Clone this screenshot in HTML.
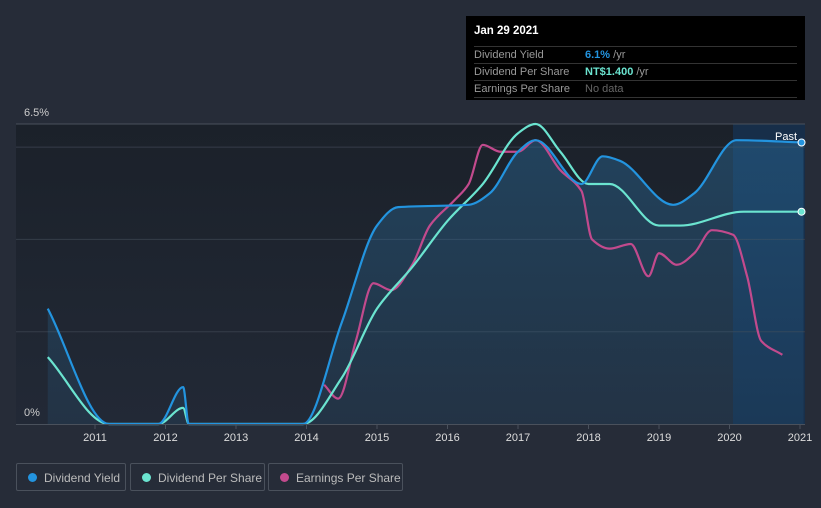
<!DOCTYPE html>
<html><head><meta charset="utf-8"><style>
body{margin:0;background:#262c38;width:821px;height:508px;overflow:hidden;font-family:"Liberation Sans",sans-serif}
#tip{position:absolute;left:466px;top:16px;width:339px;height:84px;background:#000;color:#fff;font-size:11px}
#tip .t{position:absolute;left:8px;top:9px;font-weight:bold;font-size:11.5px}
#tip .r{position:absolute;left:8px;right:8px;height:16px;border-top:1px solid #333;color:#999;line-height:16px}
#tip .r span{position:absolute;left:111px}
.lg{position:absolute;top:463px;height:28px;border:1px solid #4a515c;border-radius:2px;color:#bbb;font-size:12px;line-height:28px;box-sizing:border-box;white-space:nowrap;overflow:hidden}
.lg i{display:inline-block;width:9px;height:9px;border-radius:50%;margin:0 7px 0 11px}
</style></head><body>
<svg id="ch" width="821" height="508" style="position:absolute;left:0;top:0">
<defs>
<linearGradient id="pa" x1="0" y1="0" x2="0" y2="1"><stop offset="0" stop-color="#1b212a"/><stop offset="1" stop-color="#222936"/></linearGradient>
<linearGradient id="fy" x1="0" y1="0" x2="0" y2="1"><stop offset="0" stop-color="#2a6b9a" stop-opacity="0.45"/><stop offset="1" stop-color="#2a6b9a" stop-opacity="0.15"/></linearGradient>
</defs>
<rect x="16" y="124" width="789" height="300" fill="url(#pa)"/>
<rect x="733" y="124" width="72" height="300" fill="#173251" opacity="0.8"/>
<g id="grid"></g><g id="marks"></g><g id="axis"></g>
<text x="24" y="116" fill="#ccc" font-size="11">6.5%</text>
<text x="24" y="416" fill="#ccc" font-size="11">0%</text>
<text x="797" y="140" fill="#fff" font-size="11" text-anchor="end">Past</text>
</svg>
<div id="tip">
<div class="t">Jan 29 2021</div>
<div class="r" style="top:30px">Dividend Yield<span><b style="color:#2394df">6.1%</b> /yr</span></div>
<div class="r" style="top:47px">Dividend Per Share<span><b style="color:#6be4d0">NT$1.400</b> /yr</span></div>
<div class="r" style="top:64px;border-bottom:1px solid #333">Earnings Per Share<span style="color:#666">No data</span></div>
</div>
<div class="lg" style="left:16px;width:110px"><i style="background:#2394df"></i>Dividend Yield</div>
<div class="lg" style="left:130px;width:135px"><i style="background:#6be4d0"></i>Dividend Per Share</div>
<div class="lg" style="left:268px;width:135px"><i style="background:#c24a8d"></i>Earnings Per Share</div>
<script>
const xTicks=[2011,2012,2013,2014,2015,2016,2017,2018,2019,2020,2021];
const yGrid=[2,4,6,6.5];
const yieldT=[2010.33,2011.2,2011.9,2012.25,2012.33,2013.95,2014.5,2015.0,2015.3,2016.3,2016.6,2017.0,2017.25,2017.9,2018.2,2018.45,2019.2,2019.5,2020.1,2021.05];
const yieldV=[2.5,0,0,0.8,0,0,2.2,4.3,4.7,4.75,5.0,5.9,6.15,5.2,5.8,5.7,4.75,5.0,6.15,6.1];
const dpsT=[2010.33,2011.2,2011.9,2012.25,2012.33,2013.95,2014.5,2015.0,2015.5,2016.0,2016.5,2017.0,2017.25,2017.6,2018.0,2018.3,2019.0,2019.3,2020.2,2021.05];
const dpsV=[1.45,0,0,0.35,0,0,1.0,2.5,3.4,4.4,5.2,6.3,6.5,5.9,5.2,5.2,4.3,4.3,4.6,4.6];
const epsT=[2014.25,2014.45,2014.7,2014.95,2015.2,2015.5,2015.75,2016.1,2016.3,2016.5,2016.75,2017.0,2017.25,2017.6,2017.9,2018.05,2018.3,2018.6,2018.85,2019.0,2019.25,2019.5,2019.75,2020.05,2020.25,2020.45,2020.75];
const epsV=[0.85,0.55,1.8,3.05,2.9,3.45,4.3,4.85,5.2,6.05,5.9,5.9,6.15,5.5,5.05,4.0,3.8,3.9,3.2,3.7,3.45,3.7,4.2,4.1,3.2,1.8,1.5];
const X=t=>95+(t-2011)*70.5, Y=v=>424-v*46.15;
const NS="http://www.w3.org/2000/svg";
function mk(tag,attrs,parent){const e=document.createElementNS(NS,tag);for(const k in attrs)e.setAttribute(k,attrs[k]);parent.appendChild(e);return e;}
function path(T,V){const x=T.map(X),y=V.map(Y),n=x.length;const d=[],s=[];
for(let i=0;i<n-1;i++)d.push((y[i+1]-y[i])/(x[i+1]-x[i]));
for(let i=0;i<n;i++){if(i==0)s.push(d[0]);else if(i==n-1)s.push(d[n-2]);else if(d[i-1]*d[i]<=0)s.push(0);else{s.push(3*(d[i-1]+d[i])/( (2*d[i]+d[i-1])/d[i-1]*0+ (1/d[i-1]+1/d[i])*(d[i-1]+d[i]) )*0 + 2/(1/d[i-1]+1/d[i]));}}
let p="M"+x[0]+","+y[0];
for(let i=0;i<n-1;i++){const h=(x[i+1]-x[i])/3;p+=" C"+(x[i]+h)+","+(y[i]+s[i]*h)+" "+(x[i+1]-h)+","+(y[i+1]-s[i+1]*h)+" "+x[i+1]+","+y[i+1];}
return p;}
const g=document.getElementById('grid'),m=document.getElementById('marks'),a=document.getElementById('axis');
yGrid.forEach(v=>{const l=mk('line',{x1:16,x2:805,y1:Y(v),y2:Y(v),stroke:v==6.5?'#4a515c':'#363d49'},g);

});
const yd=path(yieldT,yieldV);
const f=mk('path',{d:yd+" L"+X(yieldT[yieldT.length-1])+",424 L"+X(yieldT[0])+",424Z",fill:"url(#fy)"},m);


const ep=mk('path',{d:path(epsT,epsV),fill:"none",stroke:"#c24a8d","stroke-width":2.2},m);


const dp=mk('path',{d:path(dpsT,dpsV),fill:"none",stroke:"#6be4d0","stroke-width":2.2},m);


const yl=mk('path',{d:yd,fill:"none",stroke:"#2394df","stroke-width":2.2},m);


const c1=mk('circle',{cx:X(yieldT[yieldT.length-1])-2,cy:Y(yieldV[yieldV.length-1]),r:3.5,fill:"#2394df",stroke:"#fff","stroke-width":1},m);


const c2=mk('circle',{cx:X(dpsT[dpsT.length-1])-2,cy:Y(dpsV[dpsV.length-1]),r:3.5,fill:"#6be4d0",stroke:"#fff","stroke-width":1},m);


const ax=mk('line',{x1:16,x2:805,y1:424.5,y2:424.5,stroke:'#4a515c'},a);


xTicks.forEach(t=>{mk('line',{x1:X(t),x2:X(t),y1:424,y2:429,stroke:'#4a515c'},a);
const tx=mk('text',{x:X(t),y:441,fill:'#ddd','font-size':11,'text-anchor':'middle'},a);tx.textContent=t;

});
</script>
</body></html>
